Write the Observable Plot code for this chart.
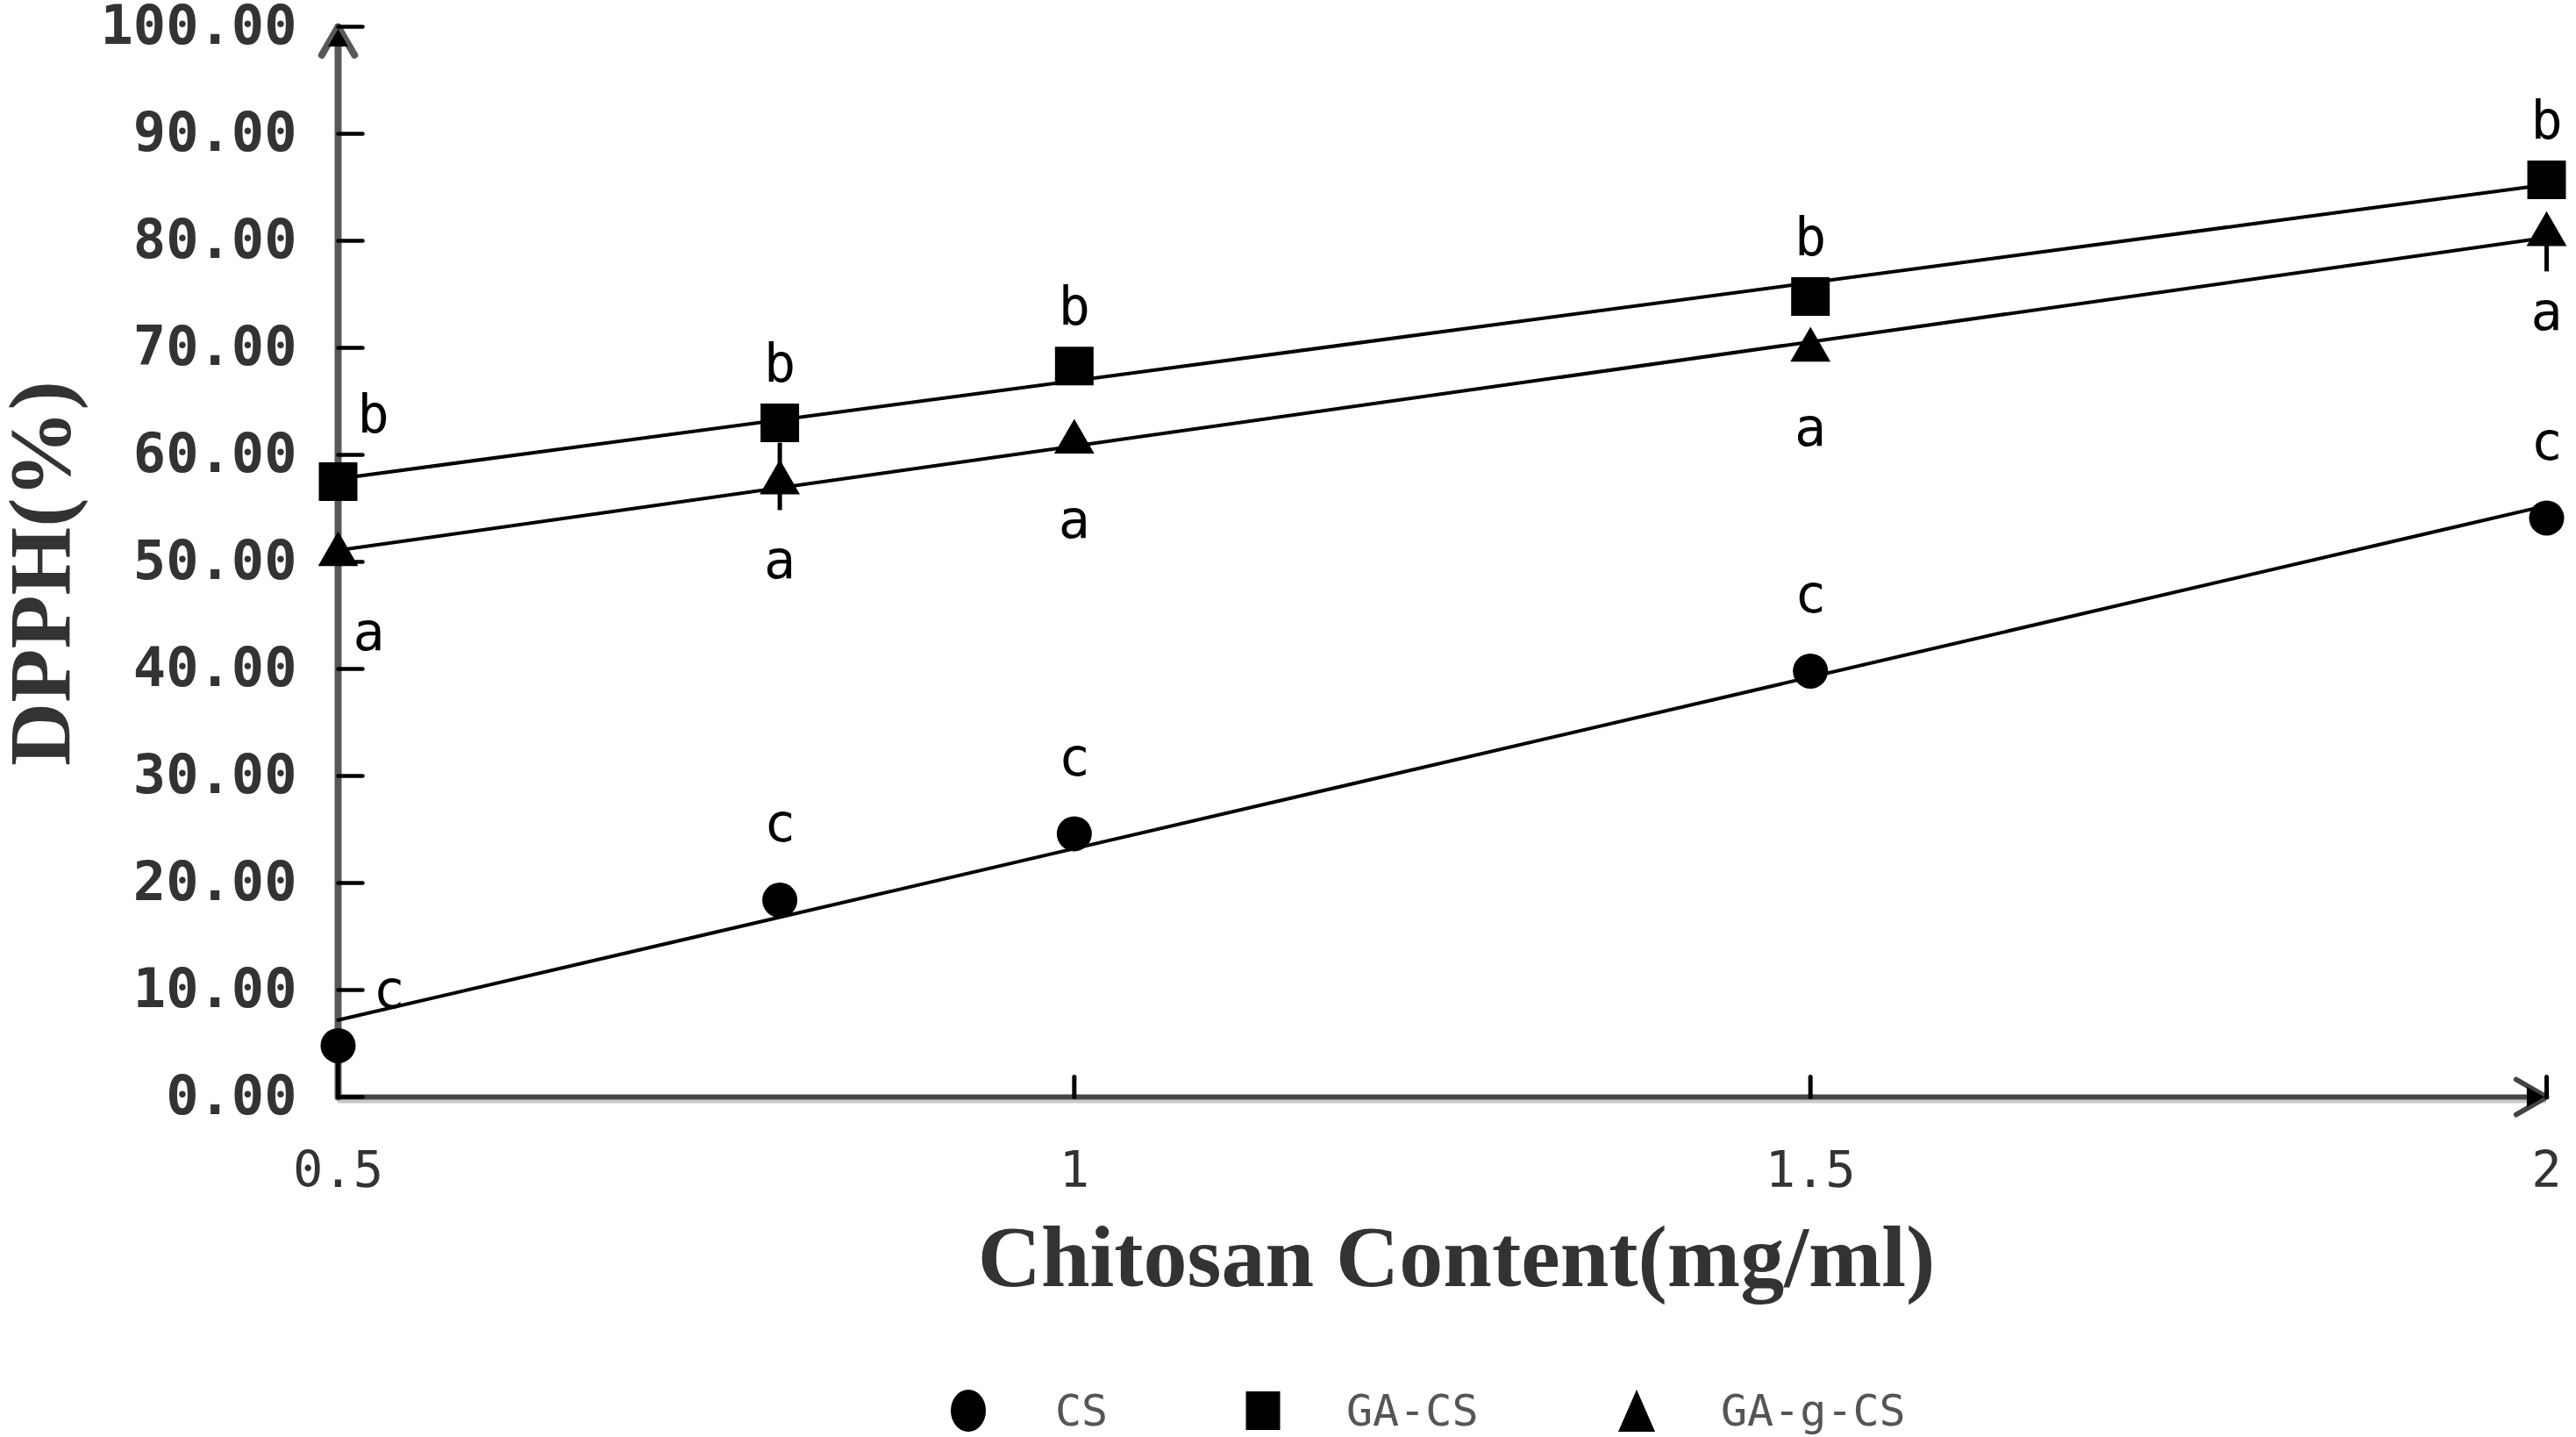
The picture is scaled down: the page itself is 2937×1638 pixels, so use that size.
<!DOCTYPE html>
<html><head><meta charset="utf-8">
<script src="https://cdn.jsdelivr.net/npm/d3@7"></script>
<script src="https://cdn.jsdelivr.net/npm/@observablehq/plot@0.6"></script>
<style>
html,body{margin:0;padding:0;background:#fff;}
#chart svg{display:block;background:#fff;overflow:visible;}
#legend{position:relative;width:2937px;height:78px;font-family:"DejaVu Sans Mono",monospace;font-size:50px;color:#555;}
#legend .sym{position:absolute;top:48px;transform:translate(-50%,-50%);display:block;}
#legend .lab{position:absolute;top:48px;transform:translateY(-50%);line-height:1;white-space:nowrap;}
</style></head><body>
<div id="chart"></div>
<div id="legend"></div>
<script>
// ---- data ----
const chitosan = [0.5, 0.8, 1.0, 1.5, 2.0];          // mg/ml
const seriesNames = ["CS", "GA-CS", "GA-g-CS"];
const csValues    = [4.8, 18.4, 24.6, 39.8, 54.1];
const gaCsValues  = [57.5, 63.0, 68.3, 74.8, 85.7];
const gaGCsValues = [50.7, 57.4, 61.2, 69.8, 80.6];
const csLetters    = ["c", "c", "c", "c", "c"];
const gaCsLetters  = ["b", "b", "b", "b", "b"];
const gaGCsLetters = ["a", "a", "a", "a", "a"];
const csErrLow     = [4.5, 0, 0, 0, 0];
const csErrHigh    = [0, 0, 0, 0, 0];
const gaCsErrLow   = [0, 0, 0, 0, 0];
const gaCsErrHigh  = [0, 0, 0, 0, 0];
const gaGCsErrLow  = [0, 2.6, 0, 0, 3.5];
const gaGCsErrHigh = [0, 3.7, 0, 0, 0];
const yTicks = [0, 10, 20, 30, 40, 50, 60, 70, 80, 90, 100];
const xTicks = [0.5, 1, 1.5, 2];
const xDomain = [0.5, 2];
const yDomain = [0, 100];
const xTitle = "Chitosan Content(mg/ml)";
const yTitle = "DPPH(%)";

// ---- table ----
const valuesBySeries = [csValues, gaCsValues, gaGCsValues];
const lettersBySeries = [csLetters, gaCsLetters, gaGCsLetters];
const lowBySeries = [csErrLow, gaCsErrLow, gaGCsErrLow];
const highBySeries = [csErrHigh, gaCsErrHigh, gaGCsErrHigh];
const rows = [];
seriesNames.forEach((s, si) => chitosan.forEach((x, i) => rows.push({
  series: s, x, y: valuesBySeries[si][i], letter: lettersBySeries[si][i],
  lo: valuesBySeries[si][i] - lowBySeries[si][i], hi: valuesBySeries[si][i] + highBySeries[si][i],
  first: i === 0, hasErr: lowBySeries[si][i] > 0 || highBySeries[si][i] > 0
})));
const of = (s) => rows.filter(d => d.series === s);
const axisSeg = [{x1: xDomain[0], y1: yDomain[0], x2: xDomain[0], y2: yDomain[1], k: "y"},
                 {x1: xDomain[0], y1: yDomain[0], x2: xDomain[1], y2: yDomain[0], k: "x"}];
const tickLine = {draw(ctx, l) { ctx.moveTo(0, 0); ctx.lineTo(0, -l); }};
const mono = "'DejaVu Sans Mono', monospace";
const serif = "'Liberation Serif', 'Times New Roman', serif";

const plot = Plot.plot({
  width: 2937, height: 1560,
  marginTop: 30, marginRight: 34, marginBottom: 310, marginLeft: 385,
  x: {domain: xDomain},
  y: {domain: yDomain},
  marks: [
    // axis lines with arrows
    Plot.ruleY([0], {stroke: "#c8c8c8", strokeWidth: 4, dy: 5}),
    Plot.arrow(axisSeg.filter(d => d.k === "x"), {x1: "x1", y1: "y1", x2: "x2", y2: "y2", stroke: "#444", strokeWidth: 6, headLength: 10, headAngle: 60}),
    Plot.arrow(axisSeg.filter(d => d.k === "y"), {x1: "x1", y1: "y1", x2: "x2", y2: "y2", stroke: "#585858", strokeWidth: 8, headLength: 7, headAngle: 60}),
    Plot.dot(axisSeg.filter(d => d.k === "y"), {x: "x2", y: "y2", symbol: "triangle", r: 8.5, fill: "black", dy: 16}),
    Plot.dot(axisSeg.filter(d => d.k === "x"), {x: "x2", y: "y2", symbol: "triangle", r: 8.5, fill: "black", rotate: 90, dx: -16}),
    // ticks (inward)
    Plot.vector(yTicks, {y: d => d, frameAnchor: "left", length: 28, rotate: 90, anchor: "start", shape: tickLine, stroke: "black", strokeWidth: 4.5}),
    Plot.vector(xTicks, {x: d => d, frameAnchor: "bottom", length: 23, rotate: 0, anchor: "start", shape: tickLine, stroke: "black", strokeWidth: 5}),
    // tick labels
    Plot.axisY({ticks: yTicks, tickFormat: d => d.toFixed(2), tickSize: 0, tickPadding: 47, label: null,
      fontSize: 62, fontWeight: "bold", fontFamily: mono, color: "#333"}),
    Plot.axisX({ticks: xTicks, tickFormat: d => String(d), tickSize: 0, tickPadding: 62, label: null,
      fontSize: 57, fontFamily: mono, color: "#333"}),
    // trend lines
    Plot.linearRegressionY(rows, {x: "x", y: "y", z: "series", ci: 0, stroke: "black", strokeWidth: 4}),
    // error bars
    Plot.ruleX(rows.filter(d => d.hasErr), {x: "x", y1: "lo", y2: "hi", stroke: "black", strokeWidth: 5}),
    // markers
    Plot.dot(of("CS"), {x: "x", y: "y", symbol: "circle", r: 20, fill: "black"}),
    Plot.dot(of("GA-CS"), {x: "x", y: "y", symbol: "square", r: 24.8, fill: "black"}),
    Plot.dot(of("GA-g-CS"), {x: "x", y: "y", symbol: "triangle", r: 17, fill: "black"}),
    // significance letters
    Plot.text(of("CS").filter(d => !d.first), {x: "x", y: "y", text: "letter", dy: -86, fontSize: 60, fontFamily: mono, fill: "black"}),
    Plot.text(of("CS").filter(d => d.first), {x: "x", y: "y", text: "letter", dx: 58, dy: -62, fontSize: 60, fontFamily: mono, fill: "black"}),
    Plot.text(of("GA-CS").filter(d => !d.first), {x: "x", y: "y", text: "letter", dy: -66, fontSize: 60, fontFamily: mono, fill: "black"}),
    Plot.text(of("GA-CS").filter(d => d.first), {x: "x", y: "y", text: "letter", dx: 40, dy: -75, fontSize: 60, fontFamily: mono, fill: "black"}),
    Plot.text(of("GA-g-CS").filter(d => !d.first), {x: "x", y: "y", text: "letter", dy: 90, fontSize: 60, fontFamily: mono, fill: "black"}),
    Plot.text(of("GA-g-CS").filter(d => d.first), {x: "x", y: "y", text: "letter", dx: 35, dy: 90, fontSize: 60, fontFamily: mono, fill: "black"}),
    // axis titles
    Plot.text([xTitle], {frameAnchor: "bottom", text: d => d, textAnchor: "middle", lineAnchor: "bottom", dx: 16, dy: 215, fontSize: 100, fontWeight: "bold", fontFamily: serif, fill: "#333"}),
    Plot.text([yTitle], {frameAnchor: "left", text: d => d, textAnchor: "middle", lineAnchor: "middle", rotate: -90, dx: -339, dy: 13, fontSize: 100, fontWeight: "bold", fontFamily: serif, fill: "#333"})
  ]
});
document.getElementById("chart").appendChild(plot);

// ---- legend (below the SVG) ----
const legendItems = [
  {name: seriesNames[0], symX: 1104, labX: 1203, shape: "circle"},
  {name: seriesNames[1], symX: 1440, labX: 1535, shape: "square"},
  {name: seriesNames[2], symX: 1866, labX: 1962, shape: "triangle"}
];
const legend = d3.select("#legend");
legendItems.forEach(it => {
  const svg = legend.append("svg").attr("class", "sym").attr("width", 44).attr("height", 50)
    .style("left", it.symX + "px");
  if (it.shape === "circle") svg.append("ellipse").attr("cx", 22).attr("cy", 25).attr("rx", 20).attr("ry", 24).attr("fill", "black");
  else if (it.shape === "square") svg.append("rect").attr("x", 2.5).attr("y", 3).attr("width", 39).attr("height", 44).attr("fill", "black");
  else svg.append("path").attr("d", "M22,1L43,49L1,49Z").attr("fill", "black");
  legend.append("span").attr("class", "lab").style("left", it.labX + "px").text(it.name);
});
</script>
</body></html>
